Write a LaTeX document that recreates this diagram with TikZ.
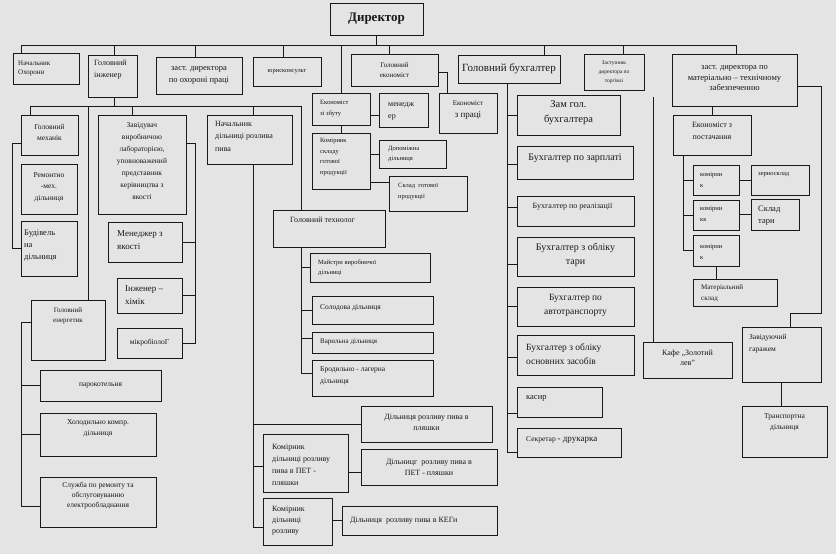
\documentclass[tikz,border=0pt]{standalone}
\usepackage{fontspec}
\setmainfont{Liberation Serif}
\usetikzlibrary{calc}
\definecolor{paper}{RGB}{228,228,228}
\definecolor{ink}{RGB}{25,25,25}
\newcommand\fz[2]{\fontsize{#1}{#2}\selectfont}
\newcommand\bx[8]{%
  \pgfmathsetmacro\bxw{#4-#2}\pgfmathsetmacro\bxh{#5-#3}%
  \node[box,minimum width=\bxw pt,minimum height=\bxh pt] (#1) at (#2,#3) {};
  \node[txt,#7] at (#1.#6) {#8};}
\begin{document}
\begin{tikzpicture}[x=1pt,y=-1pt,
 box/.style={draw=ink,line width=0.9pt,anchor=north west,inner sep=0pt,outer sep=0pt},
 txt/.style={inner sep=0pt,align=center,text=ink},
 ln/.style={draw=ink,line width=0.8pt},
 L/.style={anchor=west,xshift=3pt,align=left},
 TL/.style={anchor=north west,xshift=3pt,yshift=-3pt,align=left},
 T/.style={anchor=north,yshift=-3pt}]
\fill[paper] (0,0) rectangle (836,554);
\useasboundingbox (0,0) rectangle (836,554);

% ---------- top level
\bx{dir}{330}{3}{423}{35}{center}{font=\fz{13}{15}\bfseries}{Директор}
\bx{ohor}{13}{53}{79}{84}{west}{L,xshift=2pt,font=\fz{7}{9.5}}{Начальник\\Охорони}
\bx{ing}{88}{55}{137}{97}{north west}{TL,xshift=3pt,yshift=-2pt,font=\fz{8}{12}}{Головний\\інженер}
\bx{ohp}{156}{57}{242}{94}{center}{font=\fz{8.5}{12.5}}{заст. директора\\по охороні праці}
\bx{yur}{253}{57}{321}{86}{center}{font=\fz{6.5}{8}}{юрисконсульт}
\bx{gek}{351}{54}{438}{86}{center}{font=\fz{7}{9.5}}{Головний\\економіст}
\bx{buh}{458}{55}{560}{83}{center}{font=\fz{11}{13}}{Головний бухгалтер}
\bx{torg}{584}{54}{644}{90}{center}{font=\fz{5.5}{9}}{Заступник\\директора по\\торгівлі}
\bx{mtz}{672}{54}{797}{106}{center}{yshift=1.5pt,font=\fz{8.5}{10.5}}{заст. директора по\\матеріально – технічному\\забезпеченню}

% ---------- engineer branch
\bx{mech}{21}{115}{78}{155}{center}{yshift=3pt,font=\fz{7.5}{11}}{Головний\\механік}
\bx{rem}{21}{164}{77}{214}{center}{yshift=2pt,font=\fz{7.5}{11.5}}{Ремонтно\\-мех.\\дільниця}
\bx{bud}{21}{221}{77}{276}{west}{L,yshift=3pt,font=\fz{8.5}{12}}{Будівель\\на\\дільниця}
\bx{zav}{98}{115}{186}{214}{center}{yshift=3pt,font=\fz{7.5}{12}}{Завідувач\\виробничою\\лабораторією,\\уповноважений\\представник\\керівництва з\\якості}
\bx{men}{108}{222}{182}{262}{west}{L,xshift=6pt,yshift=2pt,font=\fz{9}{13}}{Менеджер з\\якості}
\bx{inzh}{117}{278}{182}{313}{west}{L,xshift=5pt,font=\fz{9}{13}}{Інженер –\\хімік}
\bx{mikro}{117}{328}{182}{358}{center}{font=\fz{7.5}{9}}{мікробіолоГ}
\bx{nach}{207}{115}{292}{164}{north west}{TL,xshift=5pt,yshift=-3pt,font=\fz{8}{12.5}}{Начальник\\дільниці розлива\\пива}
\bx{energ}{31}{300}{105}{360}{north}{T,yshift=-5pt,font=\fz{7}{10}}{Головний\\енергетик}
\bx{paro}{40}{370}{161}{401}{center}{font=\fz{7.5}{9}}{парокотельня}
\bx{khol}{40}{413}{156}{456}{north}{T,yshift=-3pt,font=\fz{7.5}{11}}{Холодильно компр.\\дільниця}
\bx{sluzh}{40}{477}{156}{527}{center}{yshift=6pt,font=\fz{7.5}{10}}{Служба по ремонту та\\обслуговуванню\\електрообладнання}

% ---------- technologist / bottling
\bx{tech}{273}{210}{385}{247}{north west}{TL,xshift=14pt,yshift=-4pt,font=\fz{8}{10}}{Головний технолог}
\bx{maist}{310}{253}{430}{282}{west}{L,xshift=5pt,font=\fz{6.5}{10}}{Майстри виробничої\\дільниці}
\bx{solod}{312}{296}{433}{324}{west}{L,xshift=5pt,yshift=2pt,font=\fz{7.5}{9}}{Солодова дільниця}
\bx{var}{312}{332}{433}{353}{west}{L,xshift=5pt,yshift=0.5pt,font=\fz{7}{9}}{Варильна дільниця}
\bx{brod}{312}{360}{433}{396}{west}{L,xshift=5pt,yshift=2pt,font=\fz{7.5}{12}}{Бродильно - лагерна\\дільниця}
\bx{plyash}{361}{406}{492}{442}{center}{yshift=2pt,font=\fz{8}{11}}{Дільниця розливу пива в\\пляшки}
\bx{kom1}{263}{434}{348}{492}{west}{L,xshift=6pt,yshift=-2pt,font=\fz{8}{12}}{Комірник\\дільниці розливу\\пива в ПЕТ -\\пляшки}
\bx{pet}{361}{449}{497}{485}{center}{font=\fz{8}{11}}{Дільницг\ \ розливу пива в\\ПЕТ - пляшки}
\bx{kom2}{263}{498}{332}{545}{west}{L,xshift=6pt,yshift=1pt,font=\fz{8}{11}}{Комірник\\дільниці\\розливу}
\bx{keg}{342}{506}{497}{535}{west}{L,xshift=5pt,font=\fz{8}{10}}{Дільниця\ \ розливу пива в КЕГи}

% ---------- economist branch
\bx{ezb}{312}{93}{370}{125}{west}{L,xshift=5pt,yshift=0.5pt,font=\fz{6.5}{10.5}}{Економіст\\зі збуту}
\bx{menj}{379}{93}{428}{127}{west}{L,xshift=6pt,yshift=-1pt,font=\fz{8}{12}}{менедж\\ер}
\bx{epr}{439}{93}{497}{133}{center}{yshift=2.5pt}{\fz{7}{11}Економіст\\\fz{9}{11}з праці}
\bx{komsk}{312}{133}{370}{189}{north west}{TL,xshift=5pt,yshift=-2pt,font=\fz{6.5}{10.5}}{Комірник\\складу\\готової\\продукції}
\bx{dop}{379}{140}{446}{168}{west}{L,xshift=6pt,font=\fz{6.5}{9.5}}{Допоміжна\\дільниця}
\bx{sklgp}{389}{176}{467}{211}{west}{L,xshift=6pt,yshift=2pt,font=\fz{6.5}{10.5}}{Склад\ \ готової\\продукції}

% ---------- accountant branch
\bx{zam}{517}{95}{620}{135}{center}{yshift=2pt,font=\fz{10.5}{15}}{Зам гол.\\бухгалтера}
\bx{zarp}{517}{146}{633}{179}{center}{yshift=4pt,font=\fz{10}{12}}{Бухгалтер по зарплаті}
\bx{real}{517}{196}{634}{226}{center}{yshift=4pt,xshift=-3pt,font=\fz{8}{10}}{Бухгалтер по реалізації}
\bx{tary}{517}{237}{634}{276}{center}{yshift=2pt,font=\fz{10}{14}}{Бухгалтер з обліку\\тари}
\bx{avto}{517}{287}{634}{326}{center}{yshift=1pt,font=\fz{9.5}{14}}{Бухгалтер по\\автотранспорту}
\bx{osn}{517}{335}{634}{375}{west}{L,xshift=6pt,yshift=1pt,font=\fz{9.5}{14}}{Бухгалтер з обліку\\основних засобів}
\bx{kas}{517}{387}{602}{417}{west}{L,xshift=6pt,yshift=4pt,font=\fz{8.5}{10}}{касир}
\bx{sekr}{517}{428}{621}{457}{west}{L,xshift=6pt,yshift=3pt}{\fz{7.5}{10}Секретар \fz{9}{10}- друкарка}

% ---------- trade
\bx{kafe}{643}{342}{732}{378}{center}{yshift=2pt,font=\fz{8}{10}}{Кафе „Золотий\\лев”}

% ---------- supply branch
\bx{epos}{673}{115}{751}{155}{center}{yshift=4pt,font=\fz{8}{12}}{Економіст з\\постачання}
\bx{k1}{693}{165}{739}{195}{west}{L,xshift=4pt,font=\fz{6.5}{11}}{комірни\\к}
\bx{zern}{751}{165}{809}{195}{west}{L,xshift=4pt,yshift=5pt,font=\fz{6.5}{8}}{зерносклад}
\bx{k2}{693}{200}{739}{230}{west}{L,xshift=4pt,yshift=1pt,font=\fz{6.5}{11}}{комірни\\кк}
\bx{sklt}{751}{199}{799}{230}{west}{L,xshift=4pt,yshift=-1pt,font=\fz{8.5}{12}}{Склад\\тари}
\bx{k3}{693}{235}{739}{266}{west}{L,xshift=4pt,yshift=-1pt,font=\fz{6.5}{11}}{комірни\\к}
\bx{mats}{693}{279}{777}{306}{north west}{TL,xshift=5pt,yshift=-3pt,font=\fz{7}{11}}{Матеріальний\\склад}
\bx{gar}{742}{327}{821}{382}{north west}{TL,xshift=4pt,yshift=-4pt,font=\fz{7.5}{12.5}}{Завідуючий\\гаражем}
\bx{trans}{742}{406}{827}{457}{north}{T,yshift=-4pt,font=\fz{7.5}{11}}{Транспортна\\дільниця}

% ================= connectors
\coordinate (busL) at (21,45);
\coordinate (busR) at (736,45);
\coordinate (tIng) at (114,45);
\coordinate (tOhp) at (195,45);
\coordinate (tYur) at (283,45);
\coordinate (tEzb) at (341,45);
\coordinate (tGek) at (389,45);
\coordinate (tBuh) at (544,45);
\coordinate (tTorg) at (623,45);
\draw[ln] (busL) -- (busR);
\draw[ln] (dir.south) -- (dir.south |- busL);
\draw[ln] (busL) -- (busL |- ohor.north);
\draw[ln] (tIng) -- (tIng |- ing.north);
\draw[ln] (tOhp) -- (tOhp |- ohp.north);
\draw[ln] (tYur) -- (tYur |- yur.north);
\draw[ln] (tEzb) -- (tEzb |- ezb.north);
\draw[ln] (tGek) -- (tGek |- gek.north);
\draw[ln] (tBuh) -- (tBuh |- buh.north);
\draw[ln] (tTorg) -- (tTorg |- torg.north);
\draw[ln] (busR) -- (busR |- mtz.north);

% engineer sub-bus
\coordinate (b2L) at (30,106);
\coordinate (b2R) at (301,106);
\coordinate (eL2) at (88,106);
\coordinate (zv) at (132,106);
\coordinate (nl) at (253,106);
\draw[ln] (ing.south -| tIng) -- (tIng |- b2L);
\draw[ln] (b2L) -- (b2R);
\draw[ln] (b2L) -- (b2L |- mech.north);
\draw[ln] (eL2) -- (eL2 |- energ.north);
\draw[ln] (zv) -- (zv |- zav.north);
\draw[ln] (nl) -- (nl |- nach.north);
\draw[ln] (b2R) -- (b2R |- tech.north);

% mechanic
\draw[ln] ($(mech.west)+(0,8)$) -- ++(-9,0) |- (bud.west);
% laboratory
\coordinate (zl) at (195,0);
\draw[ln] ($(zav.north east)+(0,28)$) -| (mikro.east -| zl) -- (mikro.east);
\draw[ln] (men.east) -- (men.east -| zl);
\draw[ln] (inzh.east) -- (inzh.east -| zl);
% bottling chief
\draw[ln] (nach.south -| nl) -- ($(kom2.west -| nl)+(0,6)$) -- ($(kom2.west)+(0,6)$);
\draw[ln] (plyash.west) -- (plyash.west -| nl);
\draw[ln] ($(kom1.west)+(0,3)$) -- ($(kom1.west -| nl)+(0,3)$);
\draw[ln] ($(kom1.east)+(0,9)$) -- ($(pet.west)+(0,5)$);
\draw[ln] (keg.west) -- (keg.west -| kom2.east);
% technologist
\coordinate (tl) at (301,0);
\draw[ln] (tech.south -| tl) -- ($(brod.west -| tl)+(0,-5)$) -- ($(brod.west)+(0,-5)$);
\draw[ln] (maist.west) -- (maist.west -| tl);
\draw[ln] (solod.west) -- (solod.west -| tl);
\draw[ln] ($(var.west)+(0,-4)$) -- ($(var.west -| tl)+(0,-4)$);
% energetic
\coordinate (el) at (21,0);
\draw[ln] ($(energ.west)+(0,-8)$) -- ($(energ.west -| el)+(0,-8)$) -- ($(sluzh.west -| el)+(0,4)$) -- ($(sluzh.west)+(0,4)$);
\draw[ln] (paro.west) -- (paro.west -| el);
\draw[ln] (khol.west) -- (khol.west -| el);

% economist
\draw[ln] ($(ezb.east)+(0,6)$) -- ($(menj.west)+(0,5)$);
\draw[ln] ($(gek.east)+(0,2)$) -| ($(epr.north west)+(8,0)$);
\draw[ln] (ezb.south) -- (komsk.north);
\draw[ln] (dop.west) -- (dop.west -| komsk.east);
\draw[ln] ($(sklgp.north west)+(0,6)$) -- ($(sklgp.north west -| komsk.east)+(0,6)$);

% accountant
\coordinate (bl) at (507,0);
\draw[ln] (buh.south -| bl) -- ($(sekr.west -| bl)+(0,10)$) -- ($(sekr.west)+(0,10)$);
\draw[ln] (zam.west) -- (zam.west -| bl);
\draw[ln] ($(zarp.west)+(0,2)$) -- ($(zarp.west -| bl)+(0,2)$);
\draw[ln] ($(real.west)+(0,-4)$) -- ($(real.west -| bl)+(0,-4)$);
\draw[ln] ($(tary.west)+(0,8)$) -- ($(tary.west -| bl)+(0,8)$);
\draw[ln] (avto.west) -- (avto.west -| bl);
\draw[ln] ($(osn.west)+(0,2)$) -- ($(osn.west -| bl)+(0,2)$);
\draw[ln] ($(kas.west)+(0,11)$) -- ($(kas.west -| bl)+(0,11)$);

% trade
\coordinate (tg) at (653,97);
\draw[ln] (tg) -- (tg |- kafe.north);

% supply
\coordinate (ml) at (683,0);
\draw[ln] (epos.north) -- (epos.north |- mtz.south);
\draw[ln] (epos.south -| ml) -- (k3.west -| ml) -- (k3.west);
\draw[ln] (k1.west) -- (k1.west -| ml);
\draw[ln] (k2.west) -- (k2.west -| ml);
\draw[ln] (zern.west) -- (zern.west -| k1.east);
\draw[ln] (sklt.west) -- (sklt.west -| k2.east);
\draw[ln] (k3.south) -- (k3.south |- mats.north);
\draw[ln] ($(mtz.east)+(0,6)$) -- ++(24,0) |- ($(gar.north)+(9,-14)$) -- ($(gar.north)+(9,0)$);
\draw[ln] (gar.south) -- (gar.south |- trans.north);
\end{tikzpicture}
\end{document}
